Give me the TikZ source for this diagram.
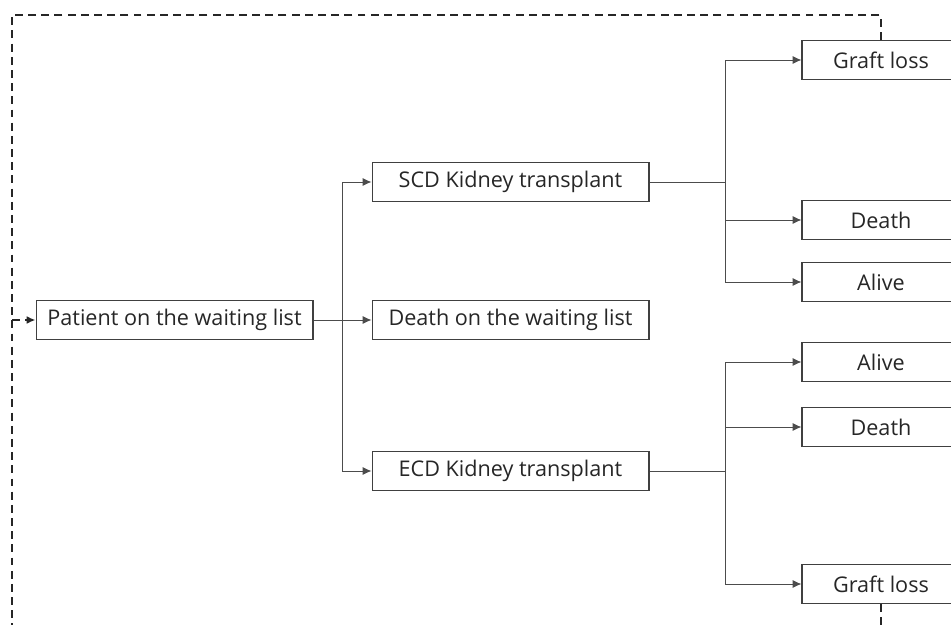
\documentclass[tikz,border=0pt]{standalone}
\usepackage{fontspec}
\setmainfont{Open Sans}
\usepackage{tikz}
\usetikzlibrary{positioning, arrows.meta}

\tikzset{
	box/.style={rectangle, draw=black!75, line width=0.6pt, text=black!85, inner sep=0, minimum height=0.79cm},
	wide/.style={minimum width=5.54cm},
	narrow/.style={minimum width=3.16cm},
	arr/.style={-{Latex[length=5pt,width=4.5pt]}, draw=black!70, line width=0.5pt},
	link/.style={draw=black!70, line width=0.5pt},
	back/.style={draw=black!85, line width=1.1pt, dash pattern=on 4.5pt off 3pt}
}

\begin{document}
\begin{tikzpicture}[x=0.02cm, y=-0.02cm, font=\fontsize{12.3}{14}\selectfont]
	\useasboundingbox (0,0) rectangle (951,625);
	\clip (0,0) rectangle (951,625);
	\node[box, minimum width=5.54cm] at(174.5,320) (p) {Patient on the waiting list};
	\foreach \y/\n/\t in {182/1/SCD Kidney transplant, 320/2/Death on the waiting list, 471/3/ECD Kidney transplant} {
		\node[box, wide] at(510.5,\y) (m\n) {\t};
	};
	\foreach \y/\n/\t in {60/1/Graft loss, 220/2/Death, 282/3/Alive, 362/4/Alive, 427/5/Death, 584/6/Graft loss} {
		\node[box, narrow] at(881,\y) (r\n) {\t};
	};
	\coordinate (f1) at(342,320);
	\coordinate (f2) at(725,182);
	\coordinate (f3) at(725,471);
	\draw[link] (p) -- (f1);
	\foreach \n in {1,2,3} {
		\draw[arr] (f1) |- (m\n);
	};
	\draw[link] (m1) -- (f2);
	\draw[link] (m3) -- (f3);
	\foreach \n in {1,2,3} {
		\draw[arr] (f2) |- (r\n);
	};
	\foreach \n in {4,5,6} {
		\draw[arr] (f3) |- (r\n);
	};
	% loop back to the waiting list
	\coordinate (c1) at(12,15);
	\coordinate (c2) at(12,630);
	\coordinate (c3) at(881,630);
	\coordinate (c4) at(12,320);
	\draw[back] (r1.north) |- (c1) -- (c2);
	\draw[back] (r6.south) -- (c3);
	\draw[back, -{Latex[length=5pt,width=4.5pt]}] (c4) -- (p.west);
\end{tikzpicture}
\end{document}
